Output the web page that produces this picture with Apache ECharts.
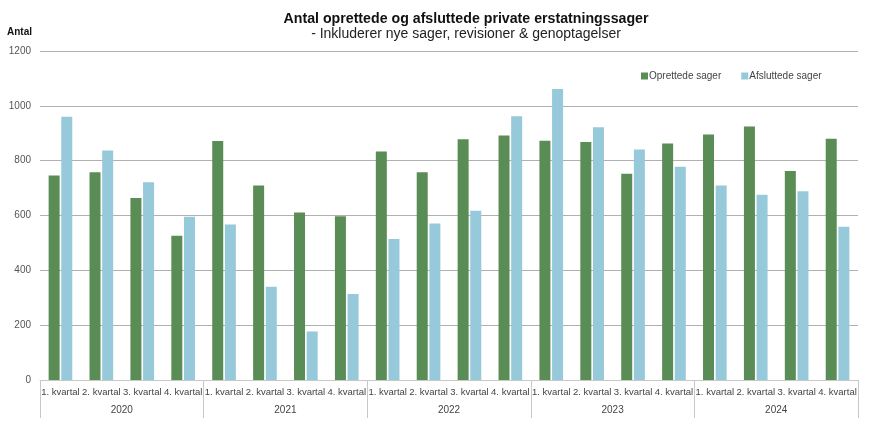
<!DOCTYPE html>
<html>
<head>
<meta charset="utf-8">
<script src="https://cdn.jsdelivr.net/npm/echarts@6/dist/echarts.min.js"></script>
<style>html,body{margin:0;padding:0;background:#fff}#c{width:870px;height:425px}</style>
</head>
<body>
<div id="c"></div>
<script>
const quarters = ['1. kvartal','2. kvartal','3. kvartal','4. kvartal'];
const years = ['2020','2021','2022','2023','2024'];
const oprettede = [746,758,664,526, 872,709,611,597, 833,758,878,892, 873,868,752,863, 895,925,762,880];
const afsluttede = [960,837,721,595, 567,340,177,314, 514,571,617,962, 1061,922,841,778, 709,676,688,559];
const yTicks = [0,200,400,600,800,1000,1200];

const cats = [];
years.forEach(y => quarters.forEach(q => cats.push(q)));

const chart = echarts.init(document.getElementById('c'));
const font = '"Liberation Sans", Arial, sans-serif';
chart.setOption({
  animation: false,
  textStyle: { fontFamily: font },
  title: {
    text: 'Antal oprettede og afsluttede private erstatningssager',
    subtext: '- Inkluderer nye sager, revisioner & genoptagelser',
    left: 461, top: 7, textAlign: 'center',
    textStyle: { fontSize: 14.2, fontWeight: 'bold', color: '#111', fontFamily: font, lineHeight: 15 },
    subtextStyle: { fontSize: 14, color: '#222', fontFamily: font, lineHeight: 14 },
    itemGap: 0
  },
  legend: {
    top: 66, left: 636,
    itemWidth: 7, itemHeight: 7, itemGap: 20,
    icon: 'rect',
    textStyle: { fontSize: 10, color: '#444', padding: [0,0,0,-4] },
    data: ['Oprettede sager','Afsluttede sager']
  },
  grid: { left: 40, right: 12, top: 51, bottom: 45 },
  xAxis: [
    {
      type: 'category', data: cats, position: 'bottom',
      axisLine: { show: true, lineStyle: { color: '#c8c8c8' } },
      axisTick: { show: false },
      axisLabel: { interval: 0, fontSize: 9.5, color: '#444', margin: 7 }
    },
    {
      type: 'category', data: years, position: 'bottom',
      axisLine: { show: false },
      axisTick: { show: true, length: 38, alignWithLabel: false, lineStyle: { color: '#c8c8c8' } },
      axisLabel: { fontSize: 10, color: '#444', margin: 25 }
    }
  ],
  yAxis: {
    type: 'value', min: 0, max: 1200, interval: 200,
    name: 'Antal', nameLocation: 'end', nameGap: 14,
    nameTextStyle: { fontWeight: 'bold', fontSize: 10, color: '#111', align: 'right', padding: [0, 8, 0, 0] },
    axisLine: { show: false }, axisTick: { show: false },
    axisLabel: { fontSize: 10, color: '#555', margin: 9,
      formatter: v => yTicks.includes(v) ? String(v) : '' },
    splitLine: { lineStyle: { color: '#b0b0b0', width: 1 } }
  },
  series: [
    { name: 'Oprettede sager', type: 'bar', data: oprettede, xAxisIndex: 0,
      barWidth: 11, barGap: '15%', itemStyle: { color: '#5a8c55' } },
    { name: 'Afsluttede sager', type: 'bar', data: afsluttede, xAxisIndex: 0,
      barWidth: 11, itemStyle: { color: '#96c9da' } }
  ]
});
</script>
</body>
</html>
